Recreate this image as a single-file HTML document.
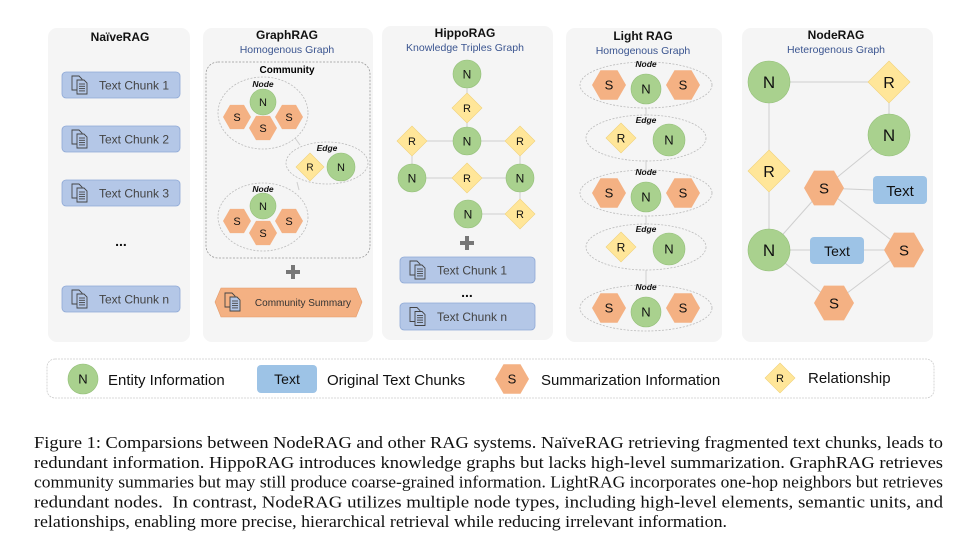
<!DOCTYPE html>
<html><head><meta charset="utf-8"><style>
html,body{margin:0;padding:0;background:#fff;}
svg{display:block;font-family:"Liberation Sans",sans-serif;}
</style></head><body>
<svg id="fig" width="961" height="544" viewBox="0 0 961 544" xmlns="http://www.w3.org/2000/svg"></svg>
<script>
const G='#a9d18e',O='#f4b183',Y='#ffe699',B='#9dc3e6',CB='#b4c7e7';
function circ(x,y,r,fs){return `<g><circle cx="${x}" cy="${y}" r="${r}" fill="${G}" stroke="#93bf78" stroke-width="0.6"/><text x="${x}" y="${y+fs*0.36}" font-size="${fs}" text-anchor="middle" fill="#111">N</text></g>`;}
function hex(x,y,r,fs){const h=r*0.866;const p=[[x-r,y],[x-r/2,y-h],[x+r/2,y-h],[x+r,y],[x+r/2,y+h],[x-r/2,y+h]].map(a=>a.join(',')).join(' ');return `<g><polygon points="${p}" fill="${O}"/><text x="${x}" y="${y+fs*0.36}" font-size="${fs}" text-anchor="middle" fill="#111">S</text></g>`;}
function dia(x,y,h,fs){return `<g><polygon points="${x},${y-h} ${x+h},${y} ${x},${y+h} ${x-h},${y}" fill="${Y}" stroke="#f0d27a" stroke-width="0.6"/><text x="${x}" y="${y+fs*0.36}" font-size="${fs}" text-anchor="middle" fill="#111">R</text></g>`;}
function ln(x1,y1,x2,y2){return `<line x1="${x1}" y1="${y1}" x2="${x2}" y2="${y2}" stroke="#cfcfcf" stroke-width="1"/>`;}
function doc(x,y){let s=`<g fill="none" stroke="#444" stroke-width="0.9"><path d="M${x} ${y} h7 l3 3 v11 h-10z"/><path d="M${x+5} ${y+4} h7 l3 3 v11 h-10z" fill="${CB}"/>`;for(let i=0;i<4;i++){s+=`<line x1="${x+7}" y1="${y+8+i*2.3}" x2="${x+13}" y2="${y+8+i*2.3}"/>`;}return s+'</g>';}
function chunk(x1,y1,x2,y2,label){return `<g><rect x="${x1}" y="${y1}" width="${x2-x1}" height="${y2-y1}" rx="4" fill="${CB}" stroke="#8fa9d6" stroke-width="0.8"/>${doc(x1+10,(y1+y2)/2-9)}<text x="${x1+37}" y="${(y1+y2)/2+4.5}" font-size="12" fill="#444">${label}</text></g>`;}
function panel(x1,y1,x2,y2,name){return `<rect x="${x1}" y="${y1}" width="${x2-x1}" height="${y2-y1}" rx="9" fill="#f5f5f5"/>`;}
function title(x,y,t,sub){let s=`<text x="${x}" y="${y}" font-size="12" font-weight="bold" text-anchor="middle" fill="#111">${t}</text>`;if(sub)s+=`<text x="${x}" y="${y+14}" font-size="10.5" text-anchor="middle" fill="#3b5590">${sub}</text>`;return s;}
function ell(cx,cy,rx,ry,lab,ly){return `<ellipse cx="${cx}" cy="${cy}" rx="${rx}" ry="${ry}" fill="none" stroke="#bbb" stroke-width="0.8" stroke-dasharray="2,1.5"/><text x="${cx}" y="${ly}" font-size="8.5" font-weight="bold" font-style="italic" text-anchor="middle" fill="#111">${lab}</text>`;}
function plus(x,y){return `<g fill="#777"><rect x="${x-7}" y="${y-2}" width="14" height="4"/><rect x="${x-2}" y="${y-7}" width="4" height="14"/></g>`;}
function dots(x,y){return `<text x="${x}" y="${y}" font-size="14" font-weight="bold" text-anchor="middle" fill="#111">...</text>`;}
let s='';
s+=panel(48,28,190,342,'naiverag-panel')+title(120,41,'NaïveRAG');
s+=chunk(62,72,180,98,'Text Chunk 1')+chunk(62,126,180,152,'Text Chunk 2')+chunk(62,180,180,206,'Text Chunk 3')+dots(121,246)+chunk(62,286,180,312,'Text Chunk n');
s+=panel(203,28,373,342,'graphrag-panel')+title(287,39,'GraphRAG','Homogenous Graph');
s+=`<rect x="206" y="62" width="164" height="196" rx="12" fill="none" stroke="#999" stroke-width="0.8" stroke-dasharray="2,1.5"/><text x="287" y="73" font-size="10" font-weight="bold" text-anchor="middle">Community</text>`;
s+=ln(295,138,300,145)+ln(299,190,297,182);
s+=ell(263,113,45,36,'Node',87)+circ(263,102,13,11)+hex(237,117,14,11)+hex(263,128,14,11)+hex(289,117,14,11);
s+=ell(327,163,41,21,'Edge',151)+dia(310,167,14,10)+circ(341,167,14,11);
s+=ell(263,217,45,34,'Node',192)+circ(263,206,13,11)+hex(237,221,14,11)+hex(263,233,14,11)+hex(289,221,14,11);
s+=plus(293,272);
s+=`<g><polygon points="221,288 356,288 362,302 356,317 221,317 215,302" fill="${O}" stroke="#e39a6a" stroke-width="0.6"/>${doc(225,293)}<text x="303" y="306" font-size="10" text-anchor="middle" fill="#333">Community Summary</text></g>`;
s+=panel(382,26,553,340,'hipporag-panel')+title(465,37,'HippoRAG','Knowledge Triples Graph');
s+=ln(467,74,467,141)+ln(412,141,520,141)+ln(412,141,412,178)+ln(412,178,520,178)+ln(520,141,520,214)+ln(468,214,520,214);
s+=circ(467,74,14,12)+dia(467,108,15,11)+circ(467,141,14,12)+dia(412,141,15,11)+dia(520,141,15,11)+circ(412,178,14,12)+dia(467,178,15,11)+circ(520,178,14,12)+circ(468,214,14,12)+dia(520,214,15,11);
s+=plus(467,243);
s+=chunk(400,257,535,283,'Text Chunk 1')+dots(467,297)+chunk(400,303,535,330,'Text Chunk n');
s+=panel(566,28,722,342,'lightrag-panel')+title(643,40,'Light RAG','Homogenous Graph');
s+=ln(646,108,646,116)+ln(646,160,646,170)+ln(646,216,646,225)+ln(646,270,646,285);
const ey=[85,138,193,247,308];
ey.forEach((y,i)=>{ if(i%2==0){s+=ell(646,y,66,23,'Node',y-18)+hex(609,y,17,13)+circ(646,y+4,15,13)+hex(683,y,17,13);} else {s+=ell(646,y,60,23,'Edge',y-15)+dia(621,y,15,12)+circ(669,y+2,16,13);} });
s+=panel(742,28,933,342,'noderag-panel')+title(836,39,'NodeRAG','Heterogenous Graph');
s+=ln(769,82,889,82)+ln(889,82,889,135)+ln(769,82,769,250)+ln(889,135,824,188)+ln(824,188,873,190)+ln(824,188,769,250)+ln(824,188,904,250)+ln(769,250,904,250)+ln(769,250,834,303)+ln(834,303,904,250);
s+=circ(769,82,21,17)+dia(889,82,21,16)+circ(889,135,21,17)+dia(769,171,21,16)+hex(824,188,20,15);
s+=`<g><rect x="873" y="176" width="54" height="28" rx="4" fill="${B}"/><text x="900" y="196" font-size="15" text-anchor="middle" fill="#111">Text</text></g>`;
s+=`<g><rect x="810" y="237" width="54" height="27" rx="4" fill="${B}"/><text x="837" y="256" font-size="14" text-anchor="middle" fill="#111">Text</text></g>`;
s+=circ(769,250,21,17)+hex(904,250,20,15)+hex(834,303,20,15);
s+=`<g><rect x="47" y="359" width="887" height="39" rx="8" fill="#fff" stroke="#ccc" stroke-width="0.8" stroke-dasharray="2,1"/>`;
s+=`<g>${circ(83,379,15,13)}<text x="108" y="385" font-size="15" fill="#111">Entity Information</text></g>`;
s+=`<g><rect x="257" y="365" width="60" height="28" rx="4" fill="${B}"/><text x="287" y="384" font-size="14" text-anchor="middle" fill="#111">Text</text><text x="327" y="385" font-size="15" fill="#111">Original Text Chunks</text></g>`;
s+=`<g>${hex(512,379,17,13)}<text x="541" y="385" font-size="15" fill="#111">Summarization Information</text></g>`;
s+=`<g>${dia(780,378,15,11)}<text x="808" y="383" font-size="15" fill="#111">Relationship</text></g></g>`;
const cap=["Figure 1: Comparsions between NodeRAG and other RAG systems. NaïveRAG retrieving fragmented text chunks, leads to","redundant information. HippoRAG introduces knowledge graphs but lacks high-level summarization. GraphRAG retrieves","community summaries but may still produce coarse-grained information. LightRAG incorporates one-hop neighbors but retrieves","redundant nodes.  In contrast, NodeRAG utilizes multiple node types, including high-level elements, semantic units, and","relationships, enabling more precise, hierarchical retrieval while reducing irrelevant information."];
s+=`<g font-family="Liberation Serif,serif" font-size="16.5" fill="#111">`;
cap.forEach((t,i)=>{const w=i<4?909:693;s+=`<text x="34" y="${448+i*19.8}" textLength="${w}" lengthAdjust="spacingAndGlyphs" xml:space="preserve">${t}</text>`;});
s+='</g>';
document.getElementById('fig').innerHTML=s;
</script>
</body></html>
